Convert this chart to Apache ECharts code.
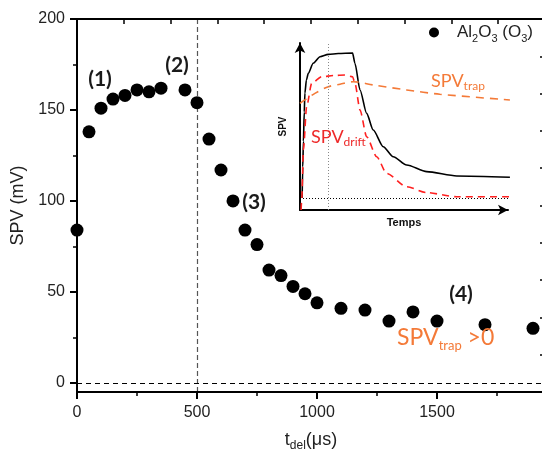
<!DOCTYPE html>
<html>
<head>
<meta charset="utf-8">
<title>SPV - Al2O3 (O3)</title>
<script src="https://cdn.jsdelivr.net/npm/echarts@6/dist/echarts.min.js"></script>
<style>
html, body { margin: 0; padding: 0; background: #fff; }
#main { width: 542px; height: 454px; }
</style>
</head>
<body>
<div id="main"></div>
<script>
// mesures : SPV (mV) selon le délai t_del (µs)
var tDel = [0, 50, 100, 150, 200, 250, 300, 350, 450, 500, 550, 600, 650, 700, 750, 800, 850, 900, 950, 1000, 1100, 1200, 1300, 1400, 1500, 1700, 1900];
var spv = [84, 138, 151, 156, 158, 161, 160, 162, 161, 154, 134, 117, 100, 84, 76, 62, 59, 53, 49, 44, 41, 40, 34, 39, 34, 32, 30];
var xTicks = [0, 500, 1000, 1500];
var xMinorTicks = [250, 750, 1250, 1750];
var yTicks = [0, 50, 100, 150, 200];
var yMinorTicks = [25, 75, 125, 175];
var seriesName = 'Al2O3 (O3)';
var tPulseEnd = 500;
var xMax = 1950, yMin = -5, yMax = 200;

// encart : schéma en unités arbitraires (temps, SPV)
var insetTotal = [[1, 7], [1.3, 25], [1.6, 40], [2, 57], [2.3, 68], [3, 75.5], [3.9, 79.5], [6.2, 85.3], [9.4, 89.1], [13.3, 90.5], [18, 91], [24.7, 91.2], [25.8, 85.3], [28.2, 69.8], [31.3, 56.2], [34.4, 46.5], [39.1, 36.8], [43.8, 31], [50.1, 26.2], [59.5, 22.3], [73.6, 19.8], [98.6, 19]];
var insetDrift = [[0.5, 0], [0.8, 5.8], [1.6, 34.9], [3.1, 60], [5.5, 73.7], [10.2, 77.5], [16, 78.2], [21.1, 78.5], [24.7, 77.5], [25.8, 73.7], [28.2, 58.1], [31.3, 42.6], [36, 31], [40.7, 21.3], [50.1, 13.5], [59.5, 10.1], [73.6, 7.7], [98.6, 7.7]];
var insetTrap = [[0, 62], [2.3, 64], [7, 67.8], [13.3, 71.7], [18.8, 73.1], [25, 74.6], [34.4, 72.7], [50.1, 69.8], [65.7, 67.3], [98.6, 64]];
var insetMarkT = 13.1;
var insetBase = 6.8;

var orange = '#f47a38';
var red = '#ff2020';
var txtFont = 'Liberation Sans';
var calFont = 'Lato';

var points = tDel.map(function (t, i) { return [t, spv[i]]; });

var chart = echarts.init(document.getElementById('main'));

var plain = function (v) { return String(v); };

function annot(id, x, y, txt) {
    return { id: id, type: 'text', x: x, y: y, z: 50, style: { text: txt, fontFamily: calFont, fontWeight: 'bold', fontSize: 21, fill: '#1a1a1a', align: 'center', verticalAlign: 'middle' } };
}
function subLabel(id, x, y, main, sub, tail, size, subSize, color) {
    return {
        id: id, type: 'text', x: x, y: y, z: 50,
        style: {
            text: '{n|' + main + '}{s|' + sub + '}' + (tail ? '{n|' + tail + '}' : ''), align: 'left', verticalAlign: 'middle',
            rich: {
                n: { fontFamily: calFont, fontSize: size, lineHeight: size + 5, fill: color },
                s: { fontFamily: calFont, fontSize: subSize, lineHeight: subSize, verticalAlign: 'bottom', fill: color }
            }
        }
    };
}

var option = {
    backgroundColor: '#fff',
    animation: false,
    grid: [
        { left: 77, top: 19, right: -3, bottom: 62, outerBoundsMode: 'none' },
        { left: 300, top: 43, width: 208, height: 167, outerBoundsMode: 'none' }
    ],
    legend: {
        left: 424, top: 19,
        data: [seriesName],
        itemWidth: 30, itemHeight: 10,
        formatter: function () { return '{n|Al}{s|2}{n|O}{s|3}{n| (O}{s|3}{n|)}'; },
        textStyle: {
            color: '#222', fontFamily: txtFont, fontSize: 17, padding: [0, 0, 0, 3],
            rich: {
                n: { fontFamily: txtFont, fontSize: 17, lineHeight: 23, color: '#222' },
                s: { fontFamily: txtFont, fontSize: 11, lineHeight: 11, verticalAlign: 'bottom', color: '#222' }
            }
        }
    },
    xAxis: [
        {
            gridIndex: 0, type: 'value', position: 'bottom', min: 0, max: xMax,
            axisLine: { show: true, onZero: false, lineStyle: { color: '#000', width: 2 } },
            axisTick: { show: true, customValues: xTicks, length: 7, lineStyle: { color: '#000', width: 2 } },
            axisLabel: { customValues: xTicks, formatter: plain, margin: 13, color: '#222', fontFamily: txtFont, fontSize: 16 },
            splitLine: { show: false },
            name: '{n|t}{s|del}{n|(μs)}',
            nameLocation: 'middle', nameGap: 36,
            nameTextStyle: {
                rich: {
                    n: { fontFamily: txtFont, fontSize: 18, lineHeight: 24, color: '#222' },
                    s: { fontFamily: txtFont, fontSize: 12, lineHeight: 12, verticalAlign: 'bottom', color: '#222' }
                }
            }
        },
        {
            gridIndex: 0, type: 'value', position: 'bottom', min: 0, max: xMax,
            axisLine: { show: false, onZero: false },
            axisTick: { show: true, customValues: xMinorTicks, length: 4, lineStyle: { color: '#000', width: 1.5 } },
            axisLabel: { show: false },
            splitLine: { show: false }
        },
        {
            gridIndex: 0, type: 'value', position: 'top', min: 0, max: xMax, interval: 195,
            axisLine: { show: true, onZero: false, lineStyle: { color: '#000', width: 2 } },
            axisTick: { show: true, inside: true, length: 5, lineStyle: { color: '#000', width: 1.5 } },
            axisLabel: { show: false },
            splitLine: { show: false }
        },
        {
            gridIndex: 1, type: 'value', min: 0, max: 97.7,
            axisLine: { show: true, onZero: false, lineStyle: { color: '#000', width: 2 }, symbol: ['none', 'arrow'], symbolSize: [8, 10] },
            axisTick: { show: false },
            axisLabel: { show: false },
            splitLine: { show: false },
            name: 'Temps', nameLocation: 'middle', nameGap: 7,
            nameTextStyle: { fontFamily: txtFont, fontWeight: 'bold', fontSize: 11, color: '#111' }
        }
    ],
    yAxis: [
        {
            gridIndex: 0, type: 'value', position: 'left', min: yMin, max: yMax,
            axisLine: { show: true, onZero: false, lineStyle: { color: '#000', width: 2 } },
            axisTick: { show: true, customValues: yTicks, length: 7, lineStyle: { color: '#000', width: 2 } },
            axisLabel: { customValues: yTicks, formatter: plain, margin: 12, color: '#222', fontFamily: txtFont, fontSize: 16 },
            splitLine: { show: false },
            name: 'SPV (mV)', nameLocation: 'middle', nameGap: 48,
            nameTextStyle: { fontFamily: txtFont, fontSize: 18, color: '#222' }
        },
        {
            gridIndex: 0, type: 'value', position: 'left', min: yMin, max: yMax,
            axisLine: { show: false, onZero: false },
            axisTick: { show: true, customValues: yMinorTicks, length: 4, lineStyle: { color: '#000', width: 1.5 } },
            axisLabel: { show: false },
            splitLine: { show: false }
        },
        {
            gridIndex: 0, type: 'value', position: 'right', min: yMin, max: yMax, interval: 20.5,
            axisLine: { show: true, onZero: false, lineStyle: { color: '#000', width: 2 } },
            axisTick: { show: true, inside: true, length: 5, lineStyle: { color: '#000', width: 1.5 } },
            axisLabel: { show: false },
            splitLine: { show: false }
        },
        {
            gridIndex: 1, type: 'value', min: 0, max: 97.1,
            axisLine: { show: true, onZero: false, lineStyle: { color: '#000', width: 2 }, symbol: ['none', 'arrow'], symbolSize: [8, 10] },
            axisTick: { show: false },
            axisLabel: { show: false },
            splitLine: { show: false },
            name: 'SPV', nameLocation: 'middle', nameGap: 12,
            nameTextStyle: { fontFamily: txtFont, fontWeight: 'bold', fontSize: 10, color: '#111' }
        }
    ],
    series: [
        {
            name: seriesName, type: 'scatter', xAxisIndex: 0, yAxisIndex: 0,
            data: points, symbolSize: 13, itemStyle: { color: '#000', opacity: 1 }, z: 5,
            markLine: {
                silent: true, symbol: ['none', 'none'], label: { show: false },
                data: [
                    { xAxis: tPulseEnd, lineStyle: { color: '#555', type: [5, 3], width: 1.2 } },
                    { yAxis: 0, lineStyle: { color: '#000', type: [5, 4], width: 1 } }
                ]
            }
        },
        // séries sans symbole : elles rattachent les axes secondaires (graduations) à la grille
        { name: '_minor', type: 'scatter', xAxisIndex: 1, yAxisIndex: 1, data: points, symbolSize: 0 },
        { name: '_frame', type: 'scatter', xAxisIndex: 2, yAxisIndex: 2, data: points, symbolSize: 0 },
        {
            name: 'SPV', type: 'line', xAxisIndex: 3, yAxisIndex: 3,
            data: insetTotal, showSymbol: false, smooth: 0.25, smoothMonotone: 'x', clip: false,
            lineStyle: { color: '#000', width: 1.6 },
            markLine: {
                silent: true, symbol: ['none', 'none'], label: { show: false },
                data: [
                    { xAxis: insetMarkT, lineStyle: { color: '#888', type: [1, 2], width: 1 } },
                    { yAxis: insetBase, lineStyle: { color: '#000', type: [1, 2], width: 1 } }
                ]
            }
        },
        {
            name: 'SPV drift', type: 'line', xAxisIndex: 3, yAxisIndex: 3,
            data: insetDrift, showSymbol: false, smooth: 0.25, smoothMonotone: 'x', clip: false,
            lineStyle: { color: red, width: 1.6, type: [7, 5] }
        },
        {
            name: 'SPV trap', type: 'line', xAxisIndex: 3, yAxisIndex: 3,
            data: insetTrap, showSymbol: false, smooth: 0.3, clip: false,
            lineStyle: { color: orange, width: 1.6, type: [8, 6] }
        }
    ],
    graphic: [
        annot('a1', 100, 79, '(1)'),
        annot('a2', 177, 65, '(2)'),
        annot('a3', 254, 202, '(3)'),
        annot('a4', 461, 294, '(4)'),
        subLabel('trapMain', 397, 338, 'SPV', 'trap', ' >0', 23, 13, orange),
        subLabel('trapInset', 431, 81, 'SPV', 'trap', '', 18, 12, orange),
        subLabel('driftInset', 311, 137, 'SPV', 'drift', '', 18, 12, '#ee2a2a')
    ]
};

chart.setOption(option);

// cadre du graphe principal, placé à partir des échelles de la grille
var pTop = chart.convertToPixel({ gridIndex: 0 }, [0, yMax]);
var pBot = chart.convertToPixel({ gridIndex: 0 }, [xMax, yMin]);
chart.setOption({
    graphic: [{
        id: 'frame', type: 'rect', z: 40, silent: true,
        shape: { x: pTop[0], y: pTop[1], width: pBot[0] - pTop[0], height: pBot[1] - pTop[1] },
        style: { fill: 'none', stroke: '#000', lineWidth: 2 }
    }]
});
</script>
</body>
</html>
